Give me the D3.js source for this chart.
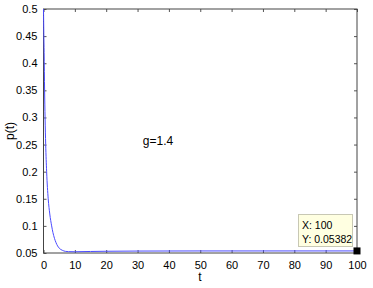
<!DOCTYPE html>
<meta charset="utf-8">
<style>
    body { margin: 0; overflow: hidden; background: #fff; }
    text { font-family: "Liberation Sans", Arial, sans-serif; }
</style>
<svg id="canvas" width="373" height="288"></svg>
<script src="https://d3js.org/d3.v7.min.js"></script>
<script>

    // values
    var tVals = [0, 0.1, 0.2, 0.35, 0.5, 0.7, 1.0, 1.5, 2, 2.6, 3, 3.5, 4, 4.5, 5, 6, 7, 8, 10, 15, 20, 30, 50, 70, 100];
    var pVals = [0.5, 0.455, 0.42, 0.35, 0.30, 0.25, 0.20, 0.15, 0.122, 0.10, 0.088, 0.077, 0.069, 0.063, 0.059, 0.055, 0.053, 0.0525, 0.0523, 0.0528, 0.0532, 0.0536, 0.0538, 0.0538, 0.05382];
    var xTicks = [0, 10, 20, 30, 40, 50, 60, 70, 80, 90, 100];
    var yTicks = [0.05, 0.1, 0.15, 0.2, 0.25, 0.3, 0.35, 0.4, 0.45, 0.5];
    var tipX = 100, tipY = 0.05382;

    var svg = d3.select("svg");
    var plotL = 43.5, plotR = 357, plotT = 9, plotB = 253;

    var x = d3.scaleLinear().domain([0, 100]).range([plotL, plotR]);
    var y = d3.scaleLinear().domain([0.05, 0.5]).range([plotB, plotT]);

    function styleAxis(g) {
        g.select(".domain").remove();
        g.selectAll(".tick line").attr("stroke", "#555");
        g.selectAll(".tick text").attr("fill", "#000").style("font-size", "11px");
    }

    svg.append("g").attr("transform", "translate(0," + plotB + ")")
       .call(d3.axisBottom(x).tickValues(xTicks).tickSizeInner(-3).tickSizeOuter(0).tickPadding(8))
       .call(styleAxis);
    svg.append("g").attr("transform", "translate(0," + plotT + ")")
       .call(d3.axisTop(x).tickValues(xTicks).tickSizeInner(-3).tickSizeOuter(0).tickFormat(""))
       .call(styleAxis);
    svg.append("g").attr("transform", "translate(" + plotL + ",0)")
       .call(d3.axisLeft(y).tickValues(yTicks).tickSizeInner(-3).tickSizeOuter(0).tickPadding(6).tickFormat(d3.format("~g")))
       .call(styleAxis);
    svg.append("g").attr("transform", "translate(" + plotR + ",0)")
       .call(d3.axisRight(y).tickValues(yTicks).tickSizeInner(-3).tickSizeOuter(0).tickFormat(""))
       .call(styleAxis);

    svg.append("rect").attr("x", plotL).attr("y", plotT)
       .attr("width", plotR - plotL).attr("height", plotB - plotT)
       .attr("fill", "none").attr("stroke", "#444").attr("stroke-width", 1);

    var pts = tVals.map(function(t, i) { return [t, pVals[i]]; });
    svg.append("path").datum(pts)
       .attr("fill", "none").attr("stroke", "#4a4aff").attr("stroke-width", 1)
       .attr("d", d3.line().curve(d3.curveMonotoneX)
           .x(function(d) { return x(d[0]); })
           .y(function(d) { return y(d[1]); }));

    svg.append("text").attr("x", 158).attr("y", 145).attr("text-anchor", "middle")
       .style("font-size", "12px").text("g=1.4");

    svg.append("text").attr("x", 200).attr("y", 281).attr("text-anchor", "middle")
       .style("font-size", "12px").text("t");
    svg.append("text").attr("transform", "translate(14,131) rotate(-90)").attr("text-anchor", "middle")
       .style("font-size", "12px").text("p(t)");

    // data tip
    svg.append("rect").attr("x", 298.5).attr("y", 214.5).attr("width", 54).attr("height", 32)
       .attr("fill", "#ffffe1").attr("stroke", "#c8c8b4");
    svg.append("text").attr("x", 302).attr("y", 229).style("font-size", "10.5px").text("X: " + tipX);
    svg.append("text").attr("x", 302).attr("y", 243).style("font-size", "10.5px").text("Y: " + tipY);
    svg.append("rect").attr("x", x(tipX) - 3.5).attr("y", y(tipY) - 3.5)
       .attr("width", 7).attr("height", 7).attr("fill", "#000");

</script>
